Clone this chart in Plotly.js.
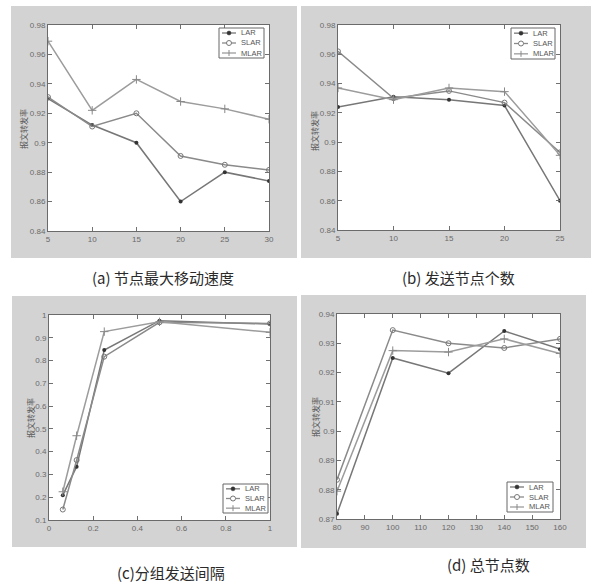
<!DOCTYPE html>
<html>
<head>
<meta charset="utf-8">
<script src="https://cdn.plot.ly/plotly-3.0.1.min.js"></script>
<style>html,body{margin:0;padding:0;background:#fff;}#chart{width:592px;height:583px;}</style>
</head>
<body>
<div id="chart"></div>
<script>
// Panel (a) 节点最大移动速度
const xA = [5, 10, 15, 20, 25, 30];
const larA = [0.930, 0.912, 0.900, 0.860, 0.880, 0.874];
const slarA = [0.931, 0.911, 0.920, 0.891, 0.885, 0.8815];
const mlarA = [0.969, 0.922, 0.943, 0.928, 0.923, 0.916];
// Panel (b) 发送节点个数
const xB = [5, 10, 15, 20, 25];
const larB = [0.924, 0.931, 0.929, 0.925, 0.860];
const slarB = [0.962, 0.930, 0.935, 0.927, 0.893];
const mlarB = [0.937, 0.929, 0.937, 0.9345, 0.891];
// Panel (c) 分组发送间隔
const xC = [0.0625, 0.125, 0.25, 0.5, 1];
const larC = [0.209, 0.334, 0.846, 0.975, 0.960];
const slarC = [0.146, 0.363, 0.817, 0.968, 0.963];
const mlarC = [0.224, 0.470, 0.927, 0.970, 0.924];
// Panel (d) 总节点数
const xD = [80, 100, 120, 140, 160];
const larD = [0.8718, 0.925, 0.9198, 0.9342, 0.928];
const slarD = [0.8834, 0.9345, 0.930, 0.9284, 0.9315];
const mlarD = [0.8795, 0.9275, 0.927, 0.9315, 0.9265];

const seriesNames = ["LAR", "SLAR", "MLAR"];
const captions = ["(a) 节点最大移动速度", "(b) 发送节点个数", "(c)分组发送间隔", "(d) 总节点数"];
const yTitle = "报文转发率";

const W = 592, H = 583;
const px = v => v / W;
const py = v => 1 - v / H;

const lineColors = ["#777777", "#8a8a8a", "#9c9c9c"];
const styles = [
  {line: {color: lineColors[0], width: 1.5}, marker: {symbol: "circle", size: 4, color: "#333"}},
  {line: {color: lineColors[1], width: 1.5}, marker: {symbol: "circle-open", size: 5, color: "#777", line: {width: 1}}},
  {line: {color: lineColors[2], width: 1.5}, marker: {symbol: "cross-thin-open", size: 6, color: "#888", line: {width: 1, color: "#888"}}}
];

const panels = [
  {x: xA, ys: [larA, slarA, mlarA], xr: [5, 30], xd: 5, yr: [0.84, 0.98], yd: 0.02,
   plot: [48, 25, 269, 231], bg: [11, 6, 297, 258], leg: [219, 28, 264, 58], cap: [163, 277], yt: [24, 129]},
  {x: xB, ys: [larB, slarB, mlarB], xr: [5, 25], xd: 5, yr: [0.84, 0.98], yd: 0.02,
   plot: [338, 25, 560, 230], bg: [301, 6, 591, 258], leg: [511, 28, 555, 59], cap: [458, 277], yt: [314, 131]},
  {x: xC, ys: [larC, slarC, mlarC], xr: [0, 1], xd: 0.2, yr: [0.1, 1], yd: 0.1,
   plot: [49, 315, 270, 520], bg: [12, 296, 297, 547], leg: [223, 484, 268, 513], cap: [171, 572], yt: [30, 418]},
  {x: xD, ys: [larD, slarD, mlarD], xr: [80, 160], xd: 10, yr: [0.87, 0.94], yd: 0.01,
   plot: [337, 314, 560, 519], bg: [301, 295, 586, 548], leg: [507, 482, 553, 512], cap: [488, 564], yt: [315, 417]}
];

const traces = [];
const layout = {
  width: W, height: H,
  margin: {l: 0, r: 0, t: 0, b: 0},
  paper_bgcolor: "#ffffff",
  plot_bgcolor: "rgba(0,0,0,0)",
  showlegend: false,
  shapes: [],
  annotations: [],
  font: {family: "Liberation Sans, Arial, sans-serif", size: 8, color: "#666"}
};

panels.forEach((p, i) => {
  const n = i + 1;
  const xa = "x" + (n === 1 ? "" : n);
  const ya = "y" + (n === 1 ? "" : n);
  p.ys.forEach((ys, k) => {
    traces.push({
      type: "scatter", mode: "lines+markers",
      x: p.x, y: ys, name: seriesNames[k],
      xaxis: xa, yaxis: ya, showlegend: false,
      line: styles[k].line, marker: styles[k].marker
    });
  });
  const axCommon = {
    showline: true, mirror: "ticks", linecolor: "#6a6a6a", linewidth: 1,
    ticks: "inside", ticklen: 4, tickcolor: "#707070", showgrid: false, zeroline: false,
    tickfont: {size: 8, color: "#6a6a6a", family: "Liberation Sans, Arial, sans-serif"}, fixedrange: true
  };
  layout["xaxis" + (n === 1 ? "" : n)] = Object.assign({}, axCommon, {
    domain: [px(p.plot[0]), px(p.plot[2])], anchor: ya, range: p.xr, dtick: p.xd, tick0: p.xr[0]
  });
  layout["yaxis" + (n === 1 ? "" : n)] = Object.assign({}, axCommon, {
    domain: [py(p.plot[3]), py(p.plot[1])], anchor: xa, range: p.yr, dtick: p.yd, tick0: p.yr[0]
  });
  layout.shapes.push({type: "rect", xref: "paper", yref: "paper", layer: "below",
    x0: px(p.bg[0]), x1: px(p.bg[2]), y0: py(p.bg[3]), y1: py(p.bg[1]),
    fillcolor: "#d3d3d3", line: {width: 0}});
  layout.annotations.push({xref: "paper", yref: "paper", x: px(p.cap[0]), y: py(p.cap[1]),
    text: captions[i], showarrow: false, xanchor: "center", yanchor: "middle",
    font: {family: "Noto Sans CJK SC", size: 15, color: "#2a2a2a"}});
  layout.annotations.push({xref: "paper", yref: "paper", x: px(p.yt[0]), y: py(p.yt[1]),
    text: yTitle, showarrow: false, textangle: -90, xanchor: "center", yanchor: "middle",
    font: {family: "Noto Sans CJK SC", size: 8, color: "#555"}});
});
panels.forEach(p => {
  layout.shapes.push({type: "rect", xref: "paper", yref: "paper", layer: "below",
    x0: px(p.plot[0]), x1: px(p.plot[2]), y0: py(p.plot[3]), y1: py(p.plot[1]),
    fillcolor: "#ffffff", line: {width: 0}});
});

// compact MATLAB-style legend boxes
panels.forEach(p => {
  const [l, t, r, b] = p.leg;
  layout.shapes.push({type: "rect", xref: "paper", yref: "paper", layer: "above",
    x0: px(l), x1: px(r), y0: py(b), y1: py(t), fillcolor: "#ffffff",
    line: {color: "#666", width: 1}});
  const step = (b - t) / 3;
  seriesNames.forEach((nm, k) => {
    const cy = t + step * (k + 0.5);
    const x0 = l + 3, x1 = l + 17, mx = (x0 + x1) / 2;
    layout.shapes.push({type: "line", xref: "paper", yref: "paper", layer: "above",
      x0: px(x0), x1: px(x1), y0: py(cy), y1: py(cy), line: {color: lineColors[k], width: 1.3}});
    if (k === 0) {
      layout.shapes.push({type: "circle", xref: "paper", yref: "paper", layer: "above",
        x0: px(mx - 2), x1: px(mx + 2), y0: py(cy + 2), y1: py(cy - 2),
        fillcolor: "#333", line: {color: "#333", width: 0.5}});
    } else if (k === 1) {
      layout.shapes.push({type: "circle", xref: "paper", yref: "paper", layer: "above",
        x0: px(mx - 2.5), x1: px(mx + 2.5), y0: py(cy + 2.5), y1: py(cy - 2.5),
        fillcolor: "#ffffff", line: {color: "#777", width: 1}});
    } else {
      layout.shapes.push({type: "line", xref: "paper", yref: "paper", layer: "above",
        x0: px(mx), x1: px(mx), y0: py(cy + 3), y1: py(cy - 3), line: {color: "#888", width: 1}});
    }
    layout.annotations.push({xref: "paper", yref: "paper", x: px(x1 + 3), y: py(cy),
      text: nm, showarrow: false, xanchor: "left", yanchor: "middle",
      font: {size: 7.5, color: "#555", family: "Liberation Sans, Arial, sans-serif"}});
  });
});

Plotly.newPlot("chart", traces, layout, {staticPlot: true, displayModeBar: false});
</script>
</body>
</html>
